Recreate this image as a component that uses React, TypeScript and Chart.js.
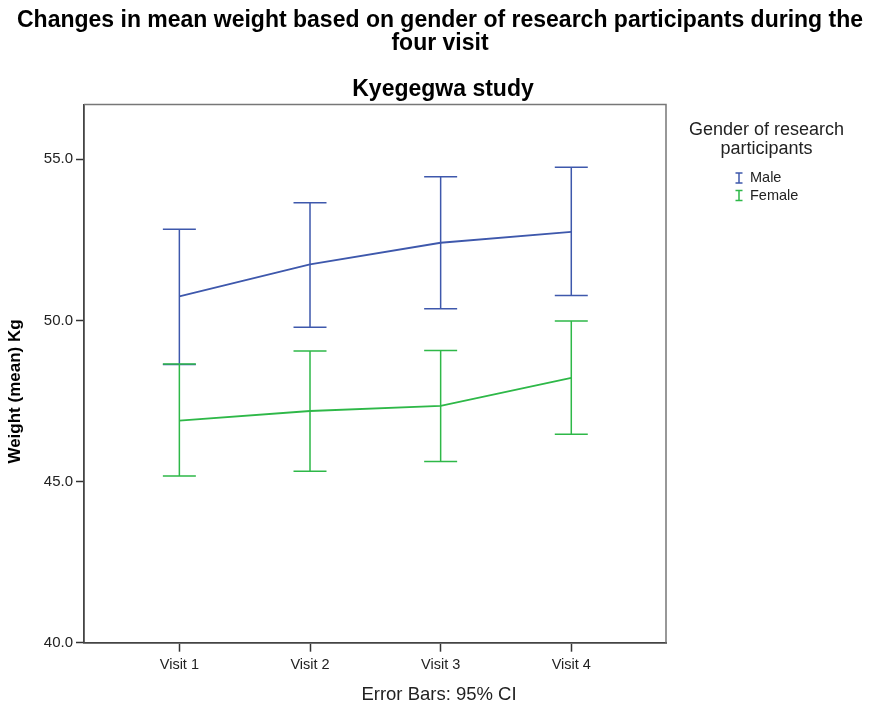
import React, { useEffect, useRef } from 'react';
import { Chart, registerables } from 'chart.js';

Chart.register(...registerables);

// Visits on the category axis
const visits = ['Visit 1', 'Visit 2', 'Visit 3', 'Visit 4'];

// Mean weight (kg) with 95% confidence limits, male participants
const maleMean = [50.75, 51.74, 52.41, 52.75];
const maleLower = [48.63, 49.79, 50.36, 50.77];
const maleUpper = [52.83, 53.65, 54.46, 54.75];

// Mean weight (kg) with 95% confidence limits, female participants
const femaleMean = [46.89, 47.19, 47.35, 48.22];
const femaleLower = [45.17, 45.32, 45.62, 46.47];
const femaleUpper = [48.65, 49.05, 49.07, 49.98];

const yTicks = [40, 45, 50, 55];

const titleLines = [
  'Changes in mean weight based on gender of research participants during the',
  'four visit',
];
const subtitle = 'Kyegegwa study';
const yTitle = 'Weight (mean) Kg';
const xNote = 'Error Bars: 95% CI';
const legendTitle = ['Gender of research', 'participants'];

const FONT = '"Liberation Sans", Arial, Helvetica, sans-serif';
const BLUE = '#3e58ac';
const GREEN = '#2eb848';
const TEXT = '#222222';

export default function App() {
  const ref = useRef<HTMLCanvasElement>(null);

  useEffect(() => {
    const canvas = ref.current;
    if (!canvas) return;

    const series = [
      { label: 'Male', color: BLUE, mean: maleMean, lower: maleLower, upper: maleUpper },
      { label: 'Female', color: GREEN, mean: femaleMean, lower: femaleLower, upper: femaleUpper },
    ];

    const decor = {
      id: 'decor',
      beforeDatasetsDraw(chart: any) {
        const { ctx } = chart;
        const x = chart.scales.x;
        const y = chart.scales.y;
        const cap = 16.5;
        ctx.save();
        ctx.lineWidth = 1.5;
        series.forEach((s) => {
          ctx.strokeStyle = s.color;
          s.mean.forEach((_, i) => {
            const px = x.getPixelForValue(i);
            const top = y.getPixelForValue(s.upper[i]);
            const bot = y.getPixelForValue(s.lower[i]);
            ctx.beginPath();
            ctx.moveTo(px, top);
            ctx.lineTo(px, bot);
            ctx.moveTo(px - cap, top);
            ctx.lineTo(px + cap, top);
            ctx.moveTo(px - cap, bot);
            ctx.lineTo(px + cap, bot);
            ctx.stroke();
          });
        });
        ctx.restore();
      },
      afterDraw(chart: any) {
        const { ctx, chartArea: a } = chart;
        ctx.save();

        // top and right frame of the plot box
        ctx.strokeStyle = '#777777';
        ctx.lineWidth = 1.5;
        ctx.beginPath();
        ctx.moveTo(a.left, a.top);
        ctx.lineTo(a.right, a.top);
        ctx.lineTo(a.right, a.bottom);
        ctx.stroke();

        // titles
        ctx.fillStyle = '#000000';
        ctx.textAlign = 'center';
        ctx.textBaseline = 'alphabetic';
        ctx.font = `bold 23px ${FONT}`;
        ctx.fillText(titleLines[0], 440, 27);
        ctx.fillText(titleLines[1], 440, 50);
        ctx.fillText(subtitle, 443, 96);

        // y-axis title
        ctx.save();
        ctx.translate(20, 391.5);
        ctx.rotate(-Math.PI / 2);
        ctx.font = `bold 17px ${FONT}`;
        ctx.textAlign = 'center';
        ctx.textBaseline = 'alphabetic';
        ctx.fillText(yTitle, 0, 0);
        ctx.restore();

        // note under the x axis
        ctx.fillStyle = TEXT;
        ctx.font = `18.5px ${FONT}`;
        ctx.fillText(xNote, 439, 700);

        // legend
        ctx.font = `18px ${FONT}`;
        ctx.fillText(legendTitle[0], 766.5, 135);
        ctx.fillText(legendTitle[1], 766.5, 154);
        ctx.textAlign = 'left';
        ctx.textBaseline = 'middle';
        ctx.font = `14.5px ${FONT}`;
        series.forEach((s, i) => {
          const cy = 178 + i * 17.5;
          const cx = 739;
          ctx.strokeStyle = s.color;
          ctx.lineWidth = 1.5;
          ctx.beginPath();
          ctx.moveTo(cx, cy - 5);
          ctx.lineTo(cx, cy + 5);
          ctx.moveTo(cx - 3.5, cy - 5);
          ctx.lineTo(cx + 3.5, cy - 5);
          ctx.moveTo(cx - 3.5, cy + 5);
          ctx.lineTo(cx + 3.5, cy + 5);
          ctx.stroke();
          ctx.fillStyle = TEXT;
          ctx.fillText(s.label, 750, cy);
        });

        ctx.restore();
      },
    };

    const chart = new Chart(canvas, {
      type: 'line',
      data: {
        datasets: series.map((s) => ({
          label: s.label,
          data: s.mean.map((v, i) => ({ x: i, y: v })),
          borderColor: s.color,
          backgroundColor: s.color,
          borderWidth: 1.8,
          pointRadius: 0,
          pointHoverRadius: 0,
          tension: 0,
          fill: false,
        })),
      },
      options: {
        responsive: false,
        animation: false,
        events: [],
        layout: { padding: { left: 0, top: 104.5, right: 203, bottom: 0 } },
        plugins: {
          legend: { display: false },
          title: { display: false },
          tooltip: { enabled: false },
        },
        scales: {
          x: {
            type: 'linear',
            min: -0.73,
            max: 3.725,
            afterBuildTicks: (scale: any) => {
              scale.ticks = visits.map((_, i) => ({ value: i }));
            },
            afterFit: (scale: any) => {
              scale.height = 66.3;
            },
            grid: {
              display: true,
              drawOnChartArea: false,
              drawTicks: true,
              tickLength: 9,
              tickWidth: 1.5,
              tickColor: '#333333',
            },
            border: { display: true, color: '#444444', width: 1.8 },
            ticks: {
              padding: 5,
              color: TEXT,
              font: { family: FONT, size: 14.5 },
              maxRotation: 0,
              autoSkip: false,
              callback: (v: any) => visits[Math.round(Number(v))] ?? '',
            },
          },
          y: {
            type: 'linear',
            min: 40,
            max: 56.7,
            afterBuildTicks: (scale: any) => {
              scale.ticks = yTicks.map((v) => ({ value: v }));
            },
            afterFit: (scale: any) => {
              scale.width = 84;
            },
            grid: {
              display: true,
              drawOnChartArea: false,
              drawTicks: true,
              tickLength: 8,
              tickWidth: 1.5,
              tickColor: '#333333',
            },
            border: { display: true, color: '#444444', width: 1.8 },
            ticks: {
              padding: 3,
              color: TEXT,
              font: { family: FONT, size: 15 },
              callback: (v: any) => Number(v).toFixed(1),
            },
          },
        },
      },
      plugins: [decor],
    });

    return () => chart.destroy();
  }, []);

  return (
    <div style={{ position: 'fixed', left: 0, top: 0, width: 869, height: 709, background: '#ffffff' }}>
      <canvas ref={ref} width={869} height={709} style={{ display: 'block' }} />
    </div>
  );
}
